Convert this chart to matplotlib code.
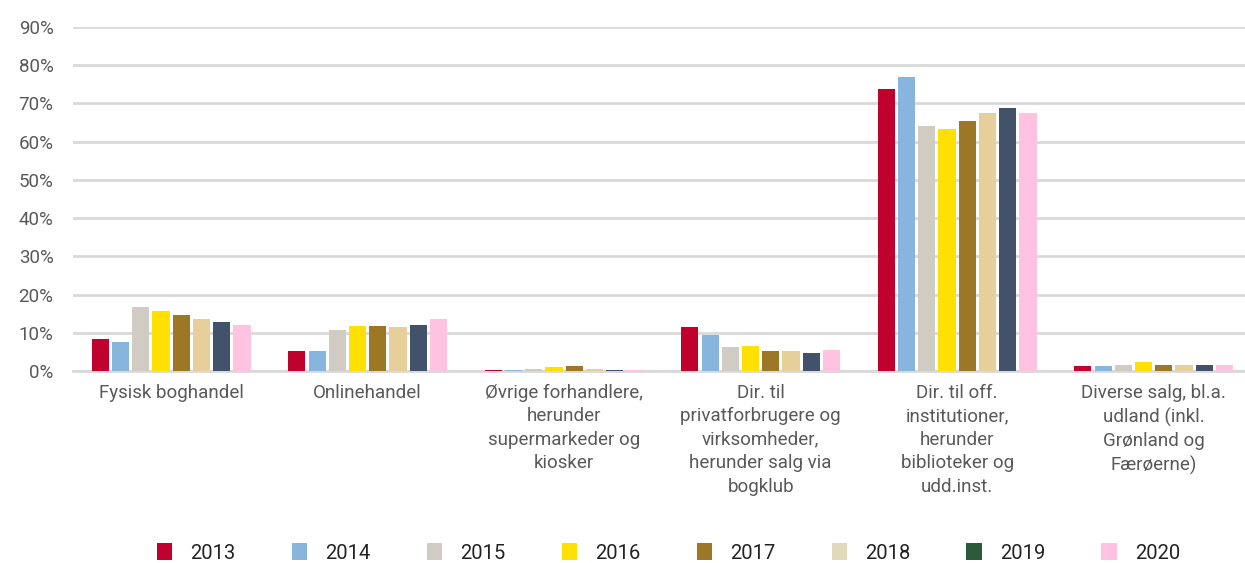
import matplotlib.pyplot as plt
import numpy as np
from matplotlib.patches import Patch

plt.rcParams['font.family'] = ['Roboto', 'DejaVu Sans']

categories = [
    "Fysisk boghandel",
    "Onlinehandel",
    "Øvrige forhandlere,\nherunder\nsupermarkeder og\nkiosker",
    "Dir. til\nprivatforbrugere og\nvirksomheder,\nherunder salg via\nbogklub",
    "Dir. til off.\ninstitutioner,\nherunder\nbiblioteker og\nudd.inst.",
    "Diverse salg, bl.a.\nudland (inkl.\nGrønland og\nFærøerne)",
]
years = ["2013", "2014", "2015", "2016", "2017", "2018", "2019", "2020"]

# andel i procent, en liste pr. år
v2013 = [8.4, 5.3, 0.35, 11.5, 73.9, 1.2]
v2014 = [7.6, 5.3, 0.25, 9.4, 76.8, 1.2]
v2015 = [16.7, 10.7, 0.6, 6.3, 64.2, 1.7]
v2016 = [15.6, 11.7, 1.1, 6.5, 63.2, 2.3]
v2017 = [14.6, 11.7, 1.4, 5.3, 65.5, 1.7]
v2018 = [13.6, 11.5, 0.6, 5.3, 67.6, 1.7]
v2019 = [12.8, 12.0, 0.35, 4.8, 68.7, 1.5]
v2020 = [12.0, 13.6, 0.25, 5.6, 67.6, 1.5]
values = [v2013, v2014, v2015, v2016, v2017, v2018, v2019, v2020]

bar_colors = ["#C0002D", "#88B5DD", "#D0CCC4", "#FFE000", "#9C7826",
              "#E6CF9A", "#42526B", "#FFC2E0"]
# legenden i originalen har lidt andre farver for 2018 og 2019
legend_colors = ["#C0002D", "#88B5DD", "#D0CCC4", "#FFE000", "#9C7826",
                 "#E2D8BC", "#2D5B3A", "#FFC2E0"]

fig = plt.figure(figsize=(12.45, 5.63), dpi=100)
ax = fig.add_axes([0.0586, 0.341, 0.947, 0.611])

x = np.arange(len(categories))
slot = 0.103
bw = slot * 0.85
for i, vals in enumerate(values):
    offs = (i - 3.5) * slot
    ax.bar(x + offs, np.array(vals) / 100, width=bw, color=bar_colors[i], zorder=3)

ax.set_xlim(-0.5, len(categories) - 0.5)
ax.set_ylim(0, 0.9)
ax.set_yticks(np.arange(0, 0.91, 0.1))
ax.set_yticklabels([f"{int(round(t * 100))}%" for t in np.arange(0, 0.91, 0.1)])
ax.yaxis.grid(True, color="#D9D9D9", linewidth=2, zorder=0)
ax.set_xticks(x)
ax.set_xticklabels(categories, linespacing=1.4)
ax.tick_params(axis="both", length=0, labelsize=13.5, labelcolor="#595959")
ax.tick_params(axis="y", pad=14)
ax.tick_params(axis="x", pad=9)
for s in ["top", "right", "left"]:
    ax.spines[s].set_visible(False)
ax.spines["bottom"].set_color("#D9D9D9")
ax.spines["bottom"].set_linewidth(2)

handles = [Patch(facecolor=c, label=y) for c, y in zip(legend_colors, years)]
fig.legend(handles=handles, loc="center", bbox_to_anchor=(0.537, 0.018),
           ncol=8, frameon=False, fontsize=14.5, handlelength=0.75, handleheight=0.95,
           columnspacing=2.8, handletextpad=0.9, labelcolor="#222222")

fig.savefig("out.png", dpi=100)
